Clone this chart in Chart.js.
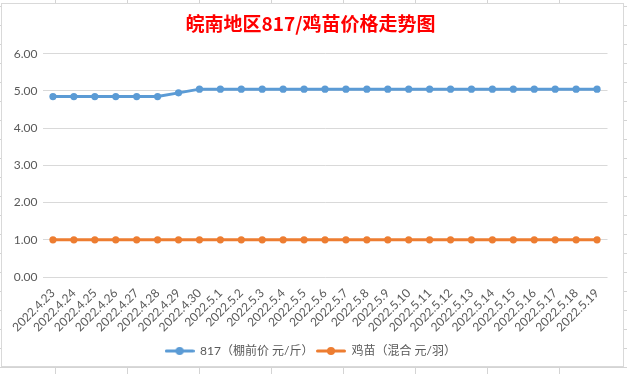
<!DOCTYPE html>
<html>
<head>
<meta charset="utf-8">
<script src="https://cdn.jsdelivr.net/npm/chart.js@4/dist/chart.umd.min.js"></script>
<style>
  html, body { margin: 0; padding: 0; }
  body {
    width: 627px; height: 374px; overflow: hidden; position: relative;
    background-color: #ffffff;
    background-image:
      linear-gradient(to right, #d4d4d4 1px, transparent 1px),
      linear-gradient(to bottom, #d4d4d4 1px, transparent 1px);
    background-size: 72px 100%, 100% 19px;
    background-position: 55px 0, 0 6px;
  }
  #box {
    position: absolute; left: 1px; top: 3px; width: 621px; height: 362px;
    border: 1px solid #d9d9d9; background: #ffffff;
  }
  #box canvas { display: block; }
</style>
</head>
<body>
<div id="box"><canvas id="c" width="621" height="362"></canvas></div>
<script>
// ---- data ----
const categories = [
  '2022.4.23','2022.4.24','2022.4.25','2022.4.26','2022.4.27','2022.4.28','2022.4.29','2022.4.30',
  '2022.5.1','2022.5.2','2022.5.3','2022.5.4','2022.5.5','2022.5.6','2022.5.7','2022.5.8',
  '2022.5.9','2022.5.10','2022.5.11','2022.5.12','2022.5.13','2022.5.14','2022.5.15','2022.5.16',
  '2022.5.17','2022.5.18','2022.5.19'
];
const price817 = [4.85,4.85,4.85,4.85,4.85,4.85,4.95,5.05,5.05,5.05,5.05,5.05,5.05,5.05,5.05,5.05,5.05,5.05,5.05,5.05,5.05,5.05,5.05,5.05,5.05,5.05,5.05];
const priceChick = [1.00,1.00,1.00,1.00,1.00,1.00,1.00,1.00,1.00,1.00,1.00,1.00,1.00,1.00,1.00,1.00,1.00,1.00,1.00,1.00,1.00,1.00,1.00,1.00,1.00,1.00,1.00];
const seriesNames = ['817（棚前价 元/斤）', '鸡苗（混合 元/羽）'];
const titleText = '皖南地区817/鸡苗价格走势图';
const yTicks = [0, 1, 2, 3, 4, 5, 6];

const BLUE = '#5B9BD5';
const ORANGE = '#ED7D31';
const TEXT = '#595959';
const GRID = '#d9d9d9';
const FONT = "Lato, 'Noto Sans CJK SC', sans-serif";

function legendIcon(color) {
  const c = document.createElement('canvas');
  c.width = 30; c.height = 10;
  const g = c.getContext('2d');
  g.strokeStyle = color; g.lineWidth = 3; g.lineCap = 'round';
  g.beginPath(); g.moveTo(1.5, 5); g.lineTo(28.5, 5); g.stroke();
  g.fillStyle = color;
  g.beginPath(); g.arc(15, 5, 4, 0, Math.PI * 2); g.fill();
  return c;
}
const icons = [legendIcon(BLUE), legendIcon(ORANGE)];

new Chart(document.getElementById('c'), {
  type: 'line',
  data: {
    labels: categories,
    datasets: [
      { label: seriesNames[0], data: price817, borderColor: BLUE, backgroundColor: BLUE,
        borderWidth: 3, pointRadius: 3.6, pointBorderWidth: 0, pointBackgroundColor: BLUE,
        tension: 0, yAxisID: 'y' },
      { label: seriesNames[1], data: priceChick, borderColor: ORANGE, backgroundColor: ORANGE,
        borderWidth: 3, pointRadius: 3.6, pointBorderWidth: 0, pointBackgroundColor: ORANGE,
        tension: 0, yAxisID: 'y' }
    ]
  },
  options: {
    responsive: false,
    animation: false,
    events: [],
    layout: { padding: { left: 0, right: 4, top: 0, bottom: -1 } },
    scales: {
      x: {
        offset: true,
        afterFit: (s) => { s.height = 65; },
        grid: { display: false, drawTicks: false },
        border: { display: false },
        ticks: {
          autoSkip: false, minRotation: 45, maxRotation: 45, padding: 9,
          color: TEXT, font: { family: FONT, size: 12 }
        }
      },
      y: {
        min: 0, max: 6,
        afterBuildTicks: (s) => { s.ticks = yTicks.map(v => ({ value: v })); },
        afterFit: (s) => { s.width = 40.5; },
        grid: { color: GRID, lineWidth: 1, drawTicks: false },
        border: { display: false },
        ticks: {
          padding: 5, color: TEXT, font: { family: FONT, size: 12 },
          callback: (v) => Number(v).toFixed(2)
        }
      },
      yR: {
        position: 'right', display: true,
        afterFit: (s) => { s.width = 11.5; },
        grid: { display: false, drawTicks: false },
        border: { display: false },
        ticks: { display: false }
      }
    },
    plugins: {
      title: {
        display: true, text: titleText, color: '#FF0000',
        font: { family: "'Noto Sans CJK SC', sans-serif", size: 19, weight: 'bold' },
        padding: { top: 8, bottom: 19 }
      },
      legend: {
        position: 'bottom',
        labels: {
          usePointStyle: true, pointStyleWidth: 29, boxHeight: 10,
          color: TEXT, font: { family: FONT, size: 12 }, padding: 3,
          generateLabels: (chart) => {
            const items = Chart.defaults.plugins.legend.labels.generateLabels(chart);
            items.forEach((it, i) => { it.pointStyle = icons[i]; });
            return items;
          }
        }
      },
      tooltip: { enabled: false }
    }
  }
});
</script>
</body>
</html>
